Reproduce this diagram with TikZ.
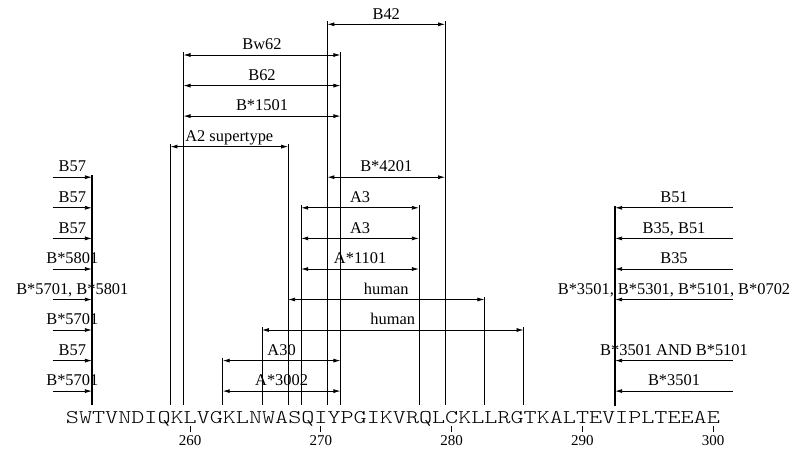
\documentclass[tikz,border=0pt]{standalone}
\usepackage{fontspec}
\setmainfont{Liberation Serif}
\newfontfamily\seqfont{Latin Modern Mono Light}
\usepackage{graphicx}
\usetikzlibrary{arrows.meta}

\begin{document}
\begin{tikzpicture}[
  x=13.08pt, y=-1pt,
  every node/.style={inner sep=0pt},
  tag/.style={anchor=base,font=\fontsize{16.4}{16}\selectfont},
  num/.style={anchor=base,font=\fontsize{15}{15}\selectfont},
  guide/.style={line width=0.8pt},
  rail/.style={line width=2pt},
  dimarr/.style={{Latex[length=7pt,width=4pt]}-{Latex[length=7pt,width=4pt]},line width=0.8pt},
  inarr/.style={-{Latex[length=7pt,width=4pt]},line width=0.8pt}
]
\useasboundingbox (245.474,0) rectangle (306.56,453);

\node[anchor=base west] (seq) at (250.5,423.5)
  {\scalebox{1}[0.78]{\fontsize{24.91}{25}\seqfont SWTVNDIQKLVGKLNWASQIYPGIKVRQLCKLLRGTKALTEVIPLTEEAE}};

\draw[guide] (260,426) -- (260,432);
\draw[guide] (270,426) -- (270,432);
\draw[guide] (280,426) -- (280,432);
\draw[guide] (290,426) -- (290,432);
\draw[guide] (300,426) -- (300,432);
\node[num] (n260) at (260,445.7) {260};
\node[num] (n270) at (270,445.7) {270};
\node[num] (n280) at (280,445.7) {280};
\node[num] (n290) at (290,445.7) {290};
\node[num] (n300) at (300,445.7) {300};

\draw[guide] (258.5,143.6) -- (258.5,405);
\draw[guide] (259.5,52) -- (259.5,405);
\draw[guide] (262.5,357.6) -- (262.5,405);
\draw[guide] (265.5,327) -- (265.5,405);
\draw[guide] (267.5,143.6) -- (267.5,405);
\draw[guide] (268.5,204.8) -- (268.5,405);
\draw[guide] (270.5,21.3) -- (270.5,405);
\draw[guide] (271.5,52) -- (271.5,405);
\draw[guide] (277.5,204.8) -- (277.5,405);
\draw[guide] (279.5,21.3) -- (279.5,405);
\draw[guide] (282.5,296.5) -- (282.5,405);
\draw[guide] (285.5,327) -- (285.5,405);
\draw[rail] (252.5,175) -- (252.5,405);
\draw[rail] (292.5,206) -- (292.5,406);

\draw[dimarr] (270.5,24.3) -- (279.5,24.3) node[tag,midway,yshift=5.3pt] (b42) {B42};
\draw[dimarr] (259.5,55) -- (271.5,55) node[tag,midway,yshift=5.3pt] (bw62) {Bw62};
\draw[dimarr] (259.5,85.6) -- (271.5,85.6) node[tag,midway,yshift=5.3pt] (b62) {B62};
\draw[dimarr] (259.5,116.1) -- (271.5,116.1) node[tag,midway,yshift=5.3pt] (b1501) {B*1501};
\draw[dimarr] (258.5,146.6) -- (267.5,146.6) node[tag,midway,yshift=5.3pt] (a2) {A2 supertype};
\draw[dimarr] (270.5,177.2) -- (279.5,177.2) node[tag,midway,yshift=5.3pt] (b4201) {B*4201};
\draw[dimarr] (268.5,207.8) -- (277.5,207.8) node[tag,midway,yshift=5.3pt] (a3a) {A3};
\draw[dimarr] (268.5,238.4) -- (277.5,238.4) node[tag,midway,yshift=5.3pt] (a3b) {A3};
\draw[dimarr] (268.5,269) -- (277.5,269) node[tag,midway,yshift=5.3pt] (a1101) {A*1101};
\draw[dimarr] (267.5,299.5) -- (282.5,299.5) node[tag,midway,yshift=5.3pt] (hum1) {human};
\draw[dimarr] (265.5,330) -- (285.5,330) node[tag,midway,yshift=5.3pt] (hum2) {human};
\draw[dimarr] (262.5,360.6) -- (271.5,360.6) node[tag,midway,yshift=5.3pt] (a30) {A30};
\draw[dimarr] (262.5,391.1) -- (271.5,391.1) node[tag,midway,yshift=5.3pt] (a3002) {A*3002};

\draw[inarr] (249.5,177.2) -- (252.5,177.2) node[tag,midway,yshift=5.3pt] (left1) {B57};
\draw[inarr] (249.5,207.8) -- (252.5,207.8) node[tag,midway,yshift=5.3pt] (left2) {B57};
\draw[inarr] (249.5,238.4) -- (252.5,238.4) node[tag,midway,yshift=5.3pt] (left3) {B57};
\draw[inarr] (249.5,269) -- (252.5,269) node[tag,midway,yshift=5.3pt] (left4) {B*5801};
\draw[inarr] (249.5,299.5) -- (252.5,299.5) node[tag,midway,yshift=5.3pt] (left5) {B*5701, B*5801};
\draw[inarr] (249.5,330) -- (252.5,330) node[tag,midway,yshift=5.3pt] (left6) {B*5701};
\draw[inarr] (249.5,360.6) -- (252.5,360.6) node[tag,midway,yshift=5.3pt] (left7) {B57};
\draw[inarr] (249.5,391.1) -- (252.5,391.1) node[tag,midway,yshift=5.3pt] (left8) {B*5701};

\draw[inarr] (301.5,207.8) -- (292.5,207.8) node[tag,midway,yshift=5.3pt] (right1) {B51};
\draw[inarr] (301.5,238.4) -- (292.5,238.4) node[tag,midway,yshift=5.3pt] (right2) {B35, B51};
\draw[inarr] (301.5,269) -- (292.5,269) node[tag,midway,yshift=5.3pt] (right3) {B35};
\draw[inarr] (301.5,299.5) -- (292.5,299.5) node[tag,midway,yshift=5.3pt] (right4) {B*3501, B*5301, B*5101, B*0702};
\draw[inarr] (301.5,360.6) -- (292.5,360.6) node[tag,midway,yshift=5.3pt] (right5) {B*3501 AND B*5101};
\draw[inarr] (301.5,391.1) -- (292.5,391.1) node[tag,midway,yshift=5.3pt] (right6) {B*3501};
\end{tikzpicture}
\end{document}
